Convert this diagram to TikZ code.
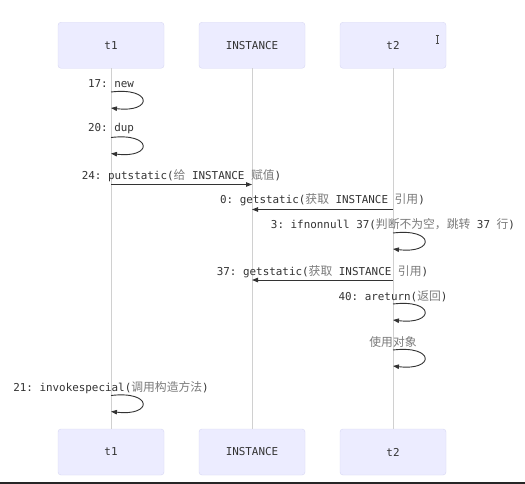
\documentclass[tikz,border=0pt]{standalone}
\usepackage{fontspec}
\usetikzlibrary{arrows.meta}
\newfontfamily\monofont{DejaVu Sans Mono}
\newfontfamily\cjkfont{Noto Sans CJK SC}
\definecolor{boxfill}{HTML}{ECECFF}
\definecolor{boxline}{HTML}{D8D8F4}
\definecolor{lifeline}{HTML}{D0D0D0}
\definecolor{msgtext}{HTML}{333333}
\definecolor{cjktext}{HTML}{7A7A7A}
\definecolor{arrowcol}{HTML}{333333}
% Chinese runs inside the monospaced labels
\newcommand\zh[1]{{\cjkfont\fontsize{11.8}{13}\selectfont\color{cjktext}#1}}
\frenchspacing

\begin{document}
\begin{tikzpicture}[x=1pt,y=-1pt,
  actor/.style={draw=boxline, fill=boxfill, rounded corners=3pt,
    minimum width=106pt, minimum height=46pt, inner sep=0pt,
    font=\monofont\fontsize{10.9}{12}\selectfont, text=msgtext},
  msglabel/.style={anchor=base, inner sep=0pt,
    font=\monofont\fontsize{10.9}{12}\selectfont, text=msgtext},
  life/.style={draw=lifeline, line width=0.8pt},
  msg/.style={draw=arrowcol, line width=0.9pt,
    -{Triangle[length=6pt,width=4.5pt]}},
]
\useasboundingbox (0,0) rectangle (525,484);
\fill[white] (0,0) rectangle (525,484);
\fill[black!85] (0,482) rectangle (525,484);

% participants, top and bottom
\node[actor] (t1top) at (111,45.3) {t1};
\node[actor] (instop) at (252,45.3) {INSTANCE};
\node[actor] (t2top) at (393,45.3) {t2};
\node[actor] (t1bot) at (111,452) {t1};
\node[actor] (insbot) at (252,452) {INSTANCE};
\node[actor] (t2bot) at (393,452) {t2};

% lifelines
\draw[life] (t1top.south) -- (t1bot.north);
\draw[life] (instop.south) -- (insbot.north);
\draw[life] (t2top.south) -- (t2bot.north);

% text cursor inside the t2 box
\draw[black!70, line width=0.7pt] (435.5,35) -- (439,35) (437.3,35) -- (437.3,43.5) (435.5,43.5) -- (439,43.5);

% self message: loop from (x,y) back to (x,y+h)
\newcommand\selfloop[4]{%
  \coordinate (#1a) at (#2,#3);
  \coordinate (#1b) at (#2,#3+#4);
  \draw[msg] (#1a) .. controls (#2+42,#3-5) and (#2+42,#3+#4+5) .. (#1b);}

% 17: new
\node[msglabel] (l1) at (111,88) {17: new};
\selfloop{s1}{111}{92}{16}
% 20: dup
\node[msglabel] (l2) at (111,132) {20: dup};
\selfloop{s2}{111}{137.5}{16}
% 24: putstatic
\node[msglabel] (l3) at (181.5,179) {24: putstatic(\zh{给} INSTANCE \zh{赋值})};
\coordinate (m3a) at (111,184.5);
\coordinate (m3b) at (252,184.5);
\draw[msg] (m3a) -- (m3b);
% 0: getstatic
\node[msglabel] (l4) at (322.5,204) {0: getstatic(\zh{获取} INSTANCE \zh{引用})};
\coordinate (m4a) at (393,209.5);
\coordinate (m4b) at (252,209.5);
\draw[msg] (m4a) -- (m4b);
% 3: ifnonnull
\node[msglabel] (l5) at (393,229) {3: ifnonnull 37(\zh{判断不为空，跳转} 37 \zh{行})};
\selfloop{s5}{393}{233}{16}
% 37: getstatic
\node[msglabel] (l6) at (322.5,275) {37: getstatic(\zh{获取} INSTANCE \zh{引用})};
\coordinate (m6a) at (393,280);
\coordinate (m6b) at (252,280);
\draw[msg] (m6a) -- (m6b);
% 40: areturn
\node[msglabel] (l7) at (393,300) {40: areturn(\zh{返回})};
\selfloop{s7}{393}{304}{16}
% use the object
\node[msglabel] (l8) at (393,346) {\zh{使用对象}};
\selfloop{s8}{393}{350}{16}
% 21: invokespecial
\node[msglabel] (l9) at (111,391) {21: invokespecial(\zh{调用构造方法})};
\selfloop{s9}{111}{395.5}{16}
\end{tikzpicture}
\end{document}
